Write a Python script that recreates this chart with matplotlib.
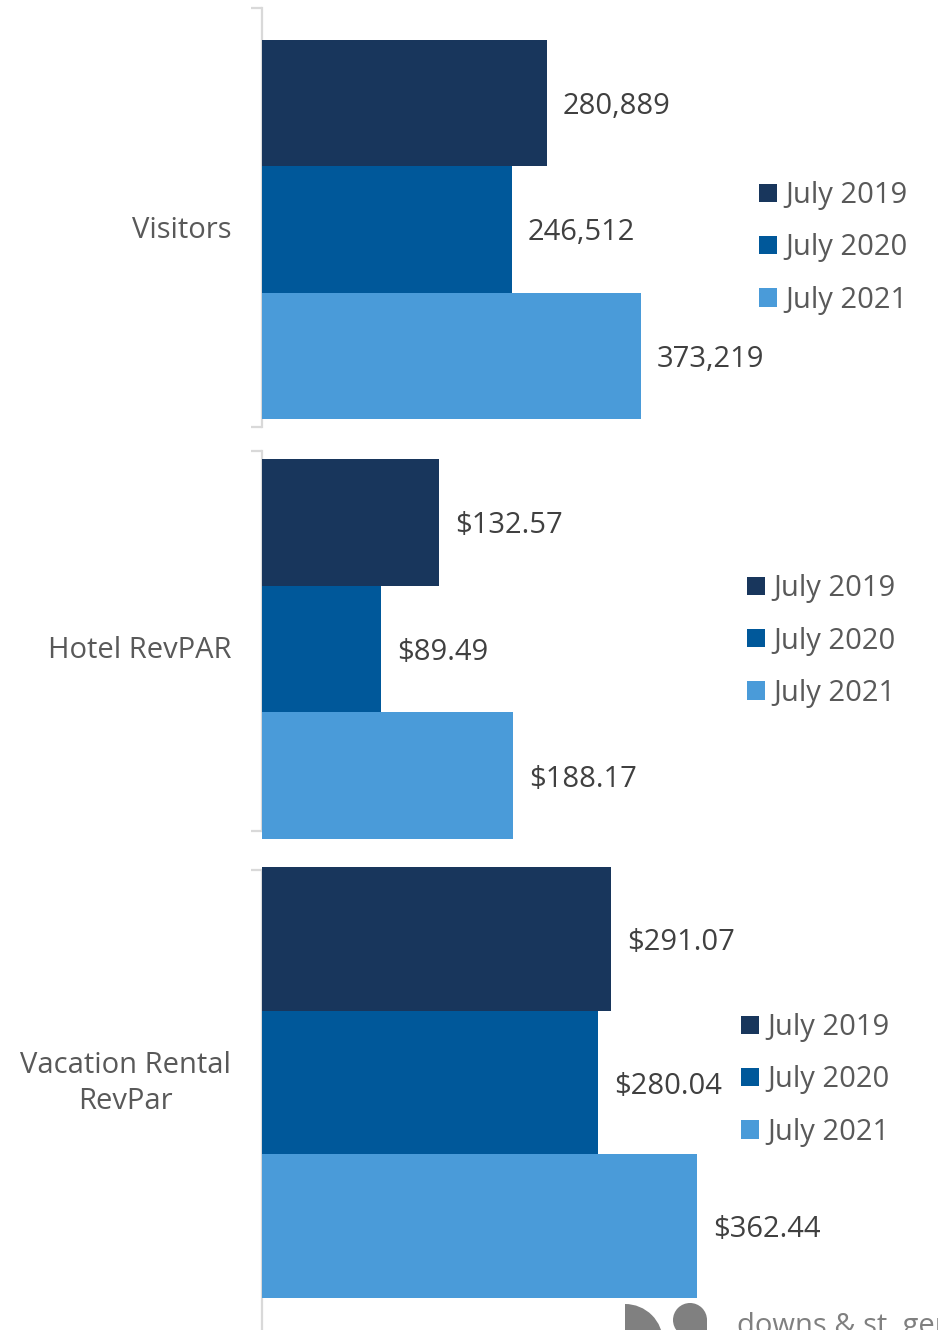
import matplotlib
matplotlib.use('Agg')
import matplotlib.pyplot as plt
from matplotlib.patches import Patch, Wedge, Circle, Polygon
from matplotlib.transforms import Affine2D

W, H = 938, 1330
DPI = 100
plt.rcParams['font.family'] = ['Open Sans', 'DejaVu Sans']

# ---- data ----
periods = ['July 2019', 'July 2020', 'July 2021']
colors = ['#18365c', '#00589a', '#4a9bd9']
categories = ['Visitors', 'Hotel RevPAR', 'Vacation Rental\nRevPar']
visitors = [280889, 246512, 373219]
hotel_revpar = [132.57, 89.49, 188.17]
vacation_revpar = [291.07, 280.04, 362.44]
series = [visitors, hotel_revpar, vacation_revpar]
formats = ['{:,.0f}', '${:,.2f}', '${:,.2f}']

# ---- layout (pixels) ----
spines_px = [(8, 427), (451, 831), (870, 1345)]
bars_px = [(40, 419), (459, 839), (867, 1298)]
xmax = [666300, 507, 563.3]
legend_px = [(759, 248), (747, 641), (741, 1080)]
ax_left, ax_right = 262, 938

TEXT = '#404040'
LABEL = '#595959'
GRID = '#d9d9d9'
FS = 21

fig = plt.figure(figsize=(W / DPI, H / DPI), dpi=DPI)

for i in range(3):
    s_top, s_bot = spines_px[i]
    b_top, b_bot = bars_px[i]
    top = min(s_top, b_top)
    bot = max(s_bot, b_bot)
    unit = (b_bot - b_top) / 3.0
    ypx = lambda p: -0.5 + (p - b_top) / unit
    ax = fig.add_axes([ax_left / W, 1 - bot / H, (ax_right - ax_left) / W, (bot - top) / H])
    vals = series[i]
    pos = list(range(len(vals)))
    ax.barh(pos, vals, height=1.0, color=colors, zorder=3)
    ax.set_ylim(ypx(bot), ypx(top))
    ax.set_xlim(0, xmax[i])
    for j, v in enumerate(vals):
        ax.annotate(formats[i].format(v), (v, j), xytext=(16, 0), textcoords='offset pixels',
                    ha='left', va='center_baseline', fontsize=FS, color=TEXT)
    for side in ['top', 'right', 'bottom']:
        ax.spines[side].set_visible(False)
    ax.spines['left'].set_color(GRID)
    ax.spines['left'].set_linewidth(1.6)
    ax.spines['left'].set_bounds(ypx(s_bot), ypx(s_top))
    ax.set_yticks([ypx(s_top), ypx(s_bot)])
    ax.set_yticklabels([])
    ax.tick_params(axis='y', length=8, width=1.6, color=GRID)
    ax.set_xticks([])
    ax.patch.set_visible(False)
    # category label
    mid = b_top + 1.5 * unit
    fig.text(231 / W, 1 - (mid + 1) / H, categories[i], ha='right', va='center',
             multialignment='center', fontsize=FS, color=LABEL, linespacing=1.32)
    # legend
    handles = [Patch(facecolor=c, edgecolor='none') for c in colors]
    lx, ly = legend_px[i]
    ax.legend(handles, periods, loc='center left', bbox_to_anchor=(lx / W, 1 - ly / H),
              bbox_transform=fig.transFigure, frameon=False, fontsize=FS,
              labelcolor=LABEL, handlelength=0.6, handleheight=0.6,
              handletextpad=0.3, labelspacing=0.8, borderpad=0, borderaxespad=0)

# ---- logo (decoration) ----
tr = Affine2D().scale(1, -1).translate(0, H)
logo_color = '#808080'
fig.patches.append(Wedge((625, 1342), 38, 270, 360, facecolor=logo_color, edgecolor='none',
                         transform=tr, figure=fig))
fig.patches.append(Circle((690, 1320), 17, facecolor=logo_color, edgecolor='none',
                          transform=tr, figure=fig))
fig.patches.append(Polygon([(690, 1303), (707, 1320), (707, 1340), (690, 1337)], closed=True,
                           facecolor=logo_color, edgecolor='none', transform=tr, figure=fig))
fig.text(737 / W, 1 - 1334 / H, 'downs & st. germain', ha='left', va='baseline',
         fontsize=21, color=logo_color)

fig.savefig('out.png', dpi=DPI)
